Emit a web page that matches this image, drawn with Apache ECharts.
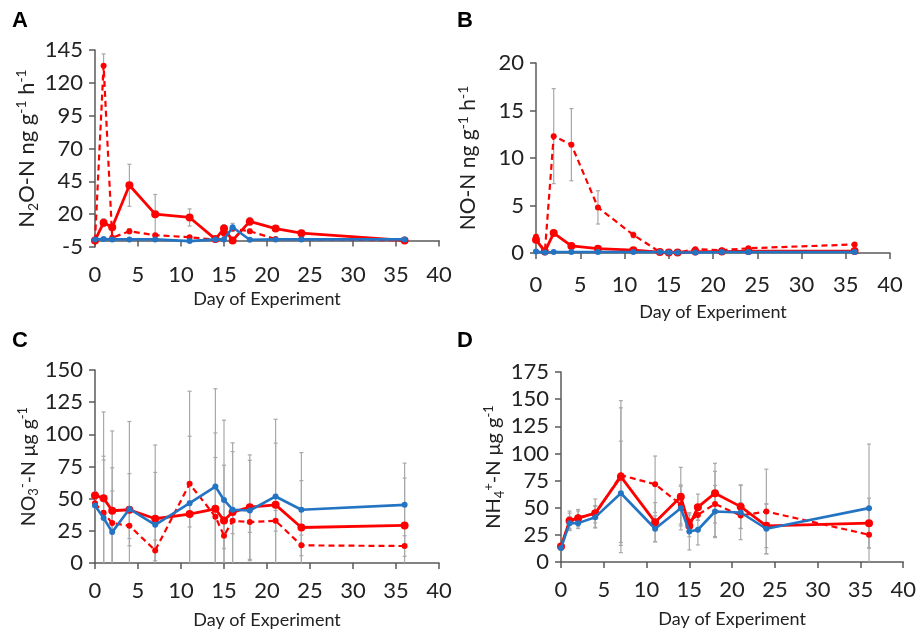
<!DOCTYPE html>
<html>
<head>
<meta charset="utf-8">
<script src="https://cdn.jsdelivr.net/npm/echarts@6/dist/echarts.min.js"></script>
<style>
  html, body { margin: 0; padding: 0; background: #fff; }
  #chart { width: 919px; height: 637px; }
</style>
</head>
<body>
<div id="chart"></div>
<script>
// sampling days (shared by all panels)
const days = [0, 1, 2, 4, 7, 11, 14, 15, 16, 18, 21, 24, 36];

// A: N2O-N flux
const n2oSolid  = [0, 13.5, 10, 42, 20, 17.5, 1, 9, 0, 14.5, 9, 5.5, 0];
const n2oDashed = [0, 133, 2, 7, 4, 2.5, 0.5, 5, 9, 7, 1, 1, 0];
const n2oBlue   = [0.8, 1, 0.8, 0.8, 0.8, -0.5, 0.8, 0.8, 10, 0.5, 0.8, 0.8, 0.8];
const n2oSolidErr  = [0.5, 3, 2, 16, 15, 6.5, 1, 3, 1, 3, 1, 1, 0.5];
const n2oDashedErr = [0.5, 9, 1, 2, 1, 1, 1, 3, 2, 1.5, 0.5, 0.5, 0.3];
const n2oBlueErr   = [0.3, 0.3, 0.3, 0.3, 0.3, 0.5, 0.3, 0.5, 3, 0.3, 0.3, 0.3, 0.3];

// B: NO-N flux
const noSolid  = [1.4, 0.15, 2.1, 0.75, 0.45, 0.3, 0.1, 0.05, 0.05, 0.15, 0.15, 0.2, 0.2];
const noDashed = [1.7, 0.1, 12.3, 11.4, 4.8, 1.9, 0.1, 0.05, 0.05, 0.4, 0.3, 0.5, 0.9];
const noBlue   = [0.15, 0.05, 0.1, 0.1, 0.1, 0.1, 0.1, 0.05, 0.05, 0.05, 0.1, 0.1, 0.1];
const noSolidErr  = [0.3, 0.05, 0.3, 0.2, 0.1, 0.1, 0.05, 0.05, 0.05, 0.05, 0.05, 0.05, 0.05];
const noDashedErr = [0.3, 0.05, 5, 3.8, 1.75, 0.3, 0.05, 0.05, 0.05, 0.1, 0.1, 0.1, 0.1];
const noBlueErr   = [0.05, 0.05, 0.05, 0.05, 0.05, 0.05, 0.05, 0.05, 0.05, 0.05, 0.05, 0.05, 0.05];

// C: NO3--N
const no3Solid  = [52.5, 50.4, 40.6, 41.4, 34.4, 38, 42.1, 33, 39.6, 43.4, 45.2, 27.6, 29.2];
const no3Dashed = [46.5, 39, 31, 29, 9.8, 61.5, 36, 21.2, 32.8, 31.8, 32.8, 13.7, 13.2];
const no3Blue   = [44.7, 35, 24, 42, 29.7, 46.5, 59.4, 49, 41.4, 40.8, 51.7, 41.4, 45.2];
const no3SolidErr  = [3, 67, 62, 28, 36, 10, 59, 43, 47, 40.6, 48, 36.4, 36.8];
const no3DashedErr = [3, 41, 43, 10, 8, 72, 46, 10, 10, 8, 8, 8, 8];
const no3BlueErr   = [3, 48, 32, 68, 62, 52, 76, 62, 52, 39, 60, 44.4, 32.4];

// D: NH4+-N
const nh4Solid  = [14.3, 37.9, 40.4, 45, 78.6, 36.7, 60.2, 33.3, 50.5, 63.4, 51, 33.3, 35.8];
const nh4Dashed = [14, 38, 41, 44, 80, 71.6, 53, 37.3, 43.4, 53.5, 42.8, 46.5, 25.1];
const nh4Blue   = [12.8, 35.8, 35.8, 41.3, 63.3, 30.6, 49.6, 28.1, 29.7, 46.5, 45.6, 30.6, 49.6];
const nh4SolidErr  = [2, 9, 8, 13, 70, 18, 27, 10, 12, 27.5, 20, 20, 23];
const nh4DashedErr = [2, 7, 6, 8, 62, 26, 18, 8, 5, 30, 12, 39, 12];
const nh4BlueErr   = [2, 6, 5, 10, 48, 12, 20, 17, 14, 24, 25, 23, 59];

const RED = '#FF0000';
const BLUE = '#2474C4';
const GREY = '#A8A8A8';
const AXIS = '#5A5A5A';
const FONT = 'Lato';

const myChart = echarts.init(document.getElementById('chart'), null, {renderer: 'canvas'});

function pts(vals) {
  return days.map((d, i) => [d, vals[i]]);
}
function errPts(vals, errs) {
  return days.map((d, i) => [d, vals[i] - errs[i], vals[i] + errs[i]]);
}

function renderErr(params, api) {
  const x = api.value(0);
  const lo = api.coord([x, api.value(1)]);
  const hi = api.coord([x, api.value(2)]);
  const w = 2;
  const st = {stroke: GREY, lineWidth: 1.2};
  return {
    type: 'group',
    children: [
      {type: 'line', shape: {x1: lo[0], y1: lo[1], x2: hi[0], y2: hi[1]}, style: st},
      {type: 'line', shape: {x1: hi[0] - w, y1: hi[1], x2: hi[0] + w, y2: hi[1]}, style: st},
      {type: 'line', shape: {x1: lo[0] - w, y1: lo[1], x2: lo[0] + w, y2: lo[1]}, style: st}
    ]
  };
}

const grids = [
  {left: 95, top: 50, width: 344, height: 197},
  {left: 536, top: 63, width: 354, height: 190},
  {left: 95, top: 370, width: 344, height: 193},
  {left: 561, top: 372, width: 345, height: 190}
];

function richName(size) {
  const sm = Math.round(size * 0.65);
  return {
    n: {fontSize: size, lineHeight: size + 4, fontFamily: FONT, color: '#222'},
    s: {fontSize: sm, lineHeight: sm, verticalAlign: 'bottom', fontFamily: FONT, color: '#222'},
    p: {fontSize: sm, lineHeight: sm, verticalAlign: 'top', fontFamily: FONT, color: '#222'}
  };
}

const yNames = [
  '{n|N}{s|2}{n|O-N ng g}{p|-1}{n| h}{p|-1}',
  '{n|NO-N ng g}{p|-1}{n| h}{p|-1}',
  '{n|NO}{s|3}{p|-}{n|-N μg g}{p|-1}',
  '{n|NH}{s|4}{p|+}{n|-N μg g}{p|-1}'
];
const yNameSizes = [22, 21, 19.5, 20];
const yRanges = [
  {min: -5, max: 145, interval: 25},
  {min: 0, max: 20, interval: 5},
  {min: 0, max: 150, interval: 25},
  {min: 0, max: 175, interval: 25}
];
const xNameGaps = [43, 50, 48, 48];
const xLabelMargins = [17, 21, 17, 17];

const xAxes = grids.map((g, i) => ({
  type: 'value', gridIndex: i, min: 0, max: 40, interval: 5,
  axisLine: {onZero: true, lineStyle: {color: AXIS, width: 1.5}},
  axisTick: {show: true, length: 6, lineStyle: {color: AXIS, width: 1.5}},
  axisLabel: {fontSize: 22, color: '#222', fontFamily: FONT, margin: xLabelMargins[i]},
  splitLine: {show: false},
  name: 'Day of Experiment', nameLocation: 'middle', nameGap: xNameGaps[i],
  nameTextStyle: {fontSize: 18, color: '#222', fontFamily: FONT}
}));

const yAxes = grids.map((g, i) => Object.assign({
  type: 'value', gridIndex: i,
  axisLine: {show: true, onZero: false, lineStyle: {color: AXIS, width: 1.5}},
  axisTick: {show: true, length: 6, lineStyle: {color: AXIS, width: 1.5}},
  axisLabel: {fontSize: 22, color: '#222', fontFamily: FONT, margin: 12},
  splitLine: {show: false},
  name: yNames[i], nameLocation: 'middle', nameGap: 55,
  nameTextStyle: {rich: richName(yNameSizes[i])}
}, yRanges[i]));

const panels = [
  [n2oSolid, n2oDashed, n2oBlue, n2oSolidErr, n2oDashedErr, n2oBlueErr],
  [noSolid, noDashed, noBlue, noSolidErr, noDashedErr, noBlueErr],
  [no3Solid, no3Dashed, no3Blue, no3SolidErr, no3DashedErr, no3BlueErr],
  [nh4Solid, nh4Dashed, nh4Blue, nh4SolidErr, nh4DashedErr, nh4BlueErr]
];

let series = [];
panels.forEach((p, i) => {
  [[p[0], p[3]], [p[1], p[4]], [p[2], p[5]]].forEach(([v, e]) => {
    series.push({
      type: 'custom', xAxisIndex: i, yAxisIndex: i, clip: true, silent: true,
      renderItem: renderErr, encode: {x: 0, y: [1, 2]},
      data: errPts(v, e), z: 1
    });
  });
  series.push({
    type: 'line', name: 'dashed', xAxisIndex: i, yAxisIndex: i,
    data: pts(p[1]), symbol: 'circle', symbolSize: 6,
    lineStyle: {color: RED, width: 2.2, type: [6, 4]}, itemStyle: {color: RED},
    z: 3, animation: false
  });
  series.push({
    type: 'line', name: 'solid', xAxisIndex: i, yAxisIndex: i,
    data: pts(p[0]), symbol: 'circle', symbolSize: 8,
    lineStyle: {color: RED, width: 2.8}, itemStyle: {color: RED},
    z: 4, animation: false
  });
  series.push({
    type: 'line', name: 'blue', xAxisIndex: i, yAxisIndex: i,
    data: pts(p[2]), symbol: 'circle', symbolSize: 6,
    lineStyle: {color: BLUE, width: 2.6}, itemStyle: {color: BLUE},
    z: 5, animation: false
  });
});

const letters = [['A', 12, 10], ['B', 457, 10], ['C', 12, 330], ['D', 457, 330]];

myChart.setOption({
  animation: false,
  backgroundColor: '#fff',
  grid: grids,
  xAxis: xAxes,
  yAxis: yAxes,
  series: series,
  graphic: letters.map(l => ({
    type: 'text', left: l[1], top: l[2],
    style: {text: l[0], font: 'bold 22px "Liberation Sans Narrow", "Liberation Sans"', fill: '#000'}
  }))
});
</script>
</body>
</html>
